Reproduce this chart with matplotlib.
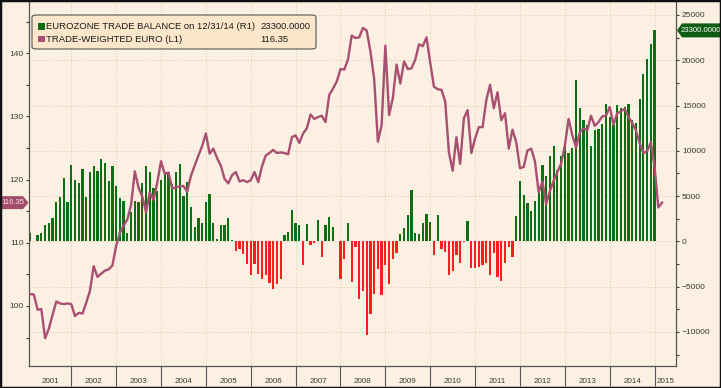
import numpy as np
import matplotlib
matplotlib.use("Agg")
import matplotlib.pyplot as plt
from matplotlib.patches import Polygon, FancyBboxPatch, Rectangle

# Arial-metric face, closer to the narrow terminal font than DejaVu
plt.rcParams['font.family'] = ['Liberation Sans', 'DejaVu Sans']

# monthly eurozone trade balance, Jan 2001 - Dec 2014 (EUR mn, right axis)
trade_balance = [
    950, 100, 700, 950, 1770, 2060, 2540, 4340, 4900, 6950, 4340, 8390,
    6730, 6480, 8020, 4900, 7690, 8320, 7760, 9050, 8610, 6660, 8320, 6110,
    4750, 4450, 960, 3240, 4450, 4340, 6400, 8320, 7650, 5920, 5600, 6730,
    7650, 7650, 6290, 7650, 8500, 5000, 6550, 3830, 1620, 2610, 2060, 4340,
    5190, 1990, 300, 1770, 1770, 2540, 200, -1070, -810, -1360, -2470, -3750,
    -2470, -3570, -4120, -3750, -4560, -5230, -4750, -4120, 660, 1070, 3460, 2060,
    1770, -2610, 1880, -400, -220, 2350, -1730, 1770, 2720, 1620, 100, -4200,
    -1910, 1990, -4450, -590, -6330, -5480, -10380, -7990, -5850, -3000, -5960, -2650,
    -4670, -1910, -1250, 770, 1510, 2870, 5630, 960, 850, 2060, 3050, 2130,
    -1550, 2940, -810, -1180, -3680, -3280, -1550, -2430, -70, 2240, -2940, -2940,
    -2830, -2580, -2390, -3680, -1250, -3940, -4420, -2390, -630, -1730, 2760, 6620,
    5120, 4230, 3310, 4450, 5300, 8460, 7210, 9380, 10490, 7840, 9460, 10600,
    9790, 10270, 17810, 14760, 13360, 12810, 10490, 12250, 12440, 12920, 15200, 13760,
    12810, 15050, 14680, 14830, 15200, 13400, 13100, 15680, 18440, 20170, 21750, 23300,
]

# trade-weighted euro, monthly Jan 2001 - Feb 2015 (left axis)
twi = [
    101.9, 101.8, 99.4, 99.5, 94.9, 96.4, 98.6, 100.7, 100.4, 100.3,
    100.4, 100.3, 98.4, 98.9, 98.8, 100.5, 102.4, 106.3, 104.6, 105.1,
    105.6, 105.8, 106.4, 109.5, 111.6, 112.7, 113.7, 116.0, 121.3, 118.7,
    117.3, 114.8, 118.0, 116.8, 119.5, 122.9, 120.9, 121.1, 118.6, 118.8,
    118.9, 119.0, 118.1, 120.6, 122.2, 123.8, 125.3, 127.3, 124.1, 124.9,
    123.4, 122.2, 120.1, 119.4, 120.7, 121.2, 119.7, 119.9, 119.6, 119.9,
    121.2, 119.6, 122.1, 123.8, 124.2, 124.7, 124.2, 124.3, 124.2, 124.0,
    126.7, 127.0, 125.8, 127.3, 128.1, 130.3, 129.6, 129.9, 130.1, 129.1,
    133.4, 134.4, 135.5, 137.5, 137.4, 139.0, 142.8, 142.4, 142.5, 144.0,
    143.6, 140.3, 136.0, 126.0, 128.6, 141.2, 130.2, 132.9, 138.2, 135.2,
    138.7, 137.5, 137.6, 139.0, 141.4, 141.1, 142.5, 138.5, 134.7, 134.3,
    134.2, 132.4, 124.3, 121.4, 126.7, 122.5, 129.7, 131.0, 124.2, 126.5,
    128.3, 128.3, 132.6, 135.0, 131.3, 133.8, 129.4, 130.5, 124.9, 127.9,
    125.9, 121.8, 122.0, 124.6, 124.9, 122.9, 118.0, 119.7, 116.1, 118.2,
    119.8, 121.2, 122.5, 125.4, 129.6, 127.0, 125.1, 127.5, 128.1, 127.8,
    130.1, 128.5, 129.1, 130.0, 130.1, 131.5, 128.7, 130.5, 130.8, 131.2,
    129.9, 129.0, 127.8, 125.8, 124.2, 124.5, 125.9, 122.0, 115.6, 116.35,
]

years = list(range(2001, 2016))
legend_labels = ['EUROZONE TRADE BALANCE on 12/31/14 (R1)', 'TRADE-WEIGHTED EURO (L1)']
legend_values = ['23300.0000', '116.35']

BG = '#fbf0e2'
GREEN = '#0e6e12'
RED = '#ff1e1e'
LINE = '#a94f72'
GRID = '#d8c8b4'
TXT = '#3a3a3a'

W, H = 721, 388
fig = plt.figure(figsize=(W / 100, H / 100), dpi=100, facecolor=BG)


def px(x, y):
    """pixel (from top-left) -> figure fraction"""
    return x / W, 1 - y / H


x0, x1, ytop, ybot = 29.4, 676.3, 2.0, 366.0
ax = fig.add_axes([x0 / W, 1 - ybot / H, (x1 - x0) / W, (ybot - ytop) / H])
ax.set_facecolor(BG)
ax2 = ax.twinx()
ax2.patch.set_visible(False)

# bars on the right-hand axis
xb = 2001 + (np.arange(len(trade_balance)) + 1) / 12.0
tb = np.array(trade_balance)
ax.bar(xb, tb, width=0.05, color=np.where(tb >= 0, GREEN, RED), linewidth=0, zorder=2)
ax.set_ylim(-13754, 26435)
ax.set_xlim(2001.067, 2015.484)

ax.yaxis.tick_right()
ax.set_yticks(np.arange(-10000, 25001, 5000))
ax.set_yticks(np.arange(-12500, 25001, 2500), minor=True)
ax.tick_params(axis='y', which='both', direction='out', length=2.5, width=0.8,
               colors=TXT, labelsize=6, pad=1.5)

# x axis: long ticks at year boundaries, labels centred in each year
xmin, xmax = ax.get_xlim()
ax.set_xticks(years[1:])
ax.set_xticklabels([])
centers = [(max(y, xmin) + min(y + 1, xmax)) / 2 for y in years]
ax.set_xticks(centers, minor=True)
ax.set_xticklabels([str(y) for y in years], minor=True)
ax.tick_params(axis='x', which='major', direction='out', length=14.5, width=0.8, colors='#555555')
ax.tick_params(axis='x', which='minor', length=0, pad=8.5, labelsize=5.8, labelcolor=TXT)

ax.grid(True, which='major', axis='both', color=GRID, linestyle=(0, (1, 2)), linewidth=0.7, zorder=0)
for s in ['left', 'right', 'bottom']:
    ax.spines[s].set_color('#555555')
    ax.spines[s].set_linewidth(0.9)
ax.spines['top'].set_visible(False)

# line on the left-hand axis
xl = 2001 + (np.arange(len(twi)) + 1) / 12.0
ax2.plot(xl, twi, color=LINE, linewidth=1.7, zorder=3, solid_joinstyle='round')
ax2.set_ylim(90.5, 148.1)
ax2.yaxis.tick_left()
ax2.set_yticks([100, 110, 120, 130, 140])
ax2.set_yticks(np.arange(95, 146, 5), minor=True)
ax2.tick_params(axis='y', which='both', direction='out', length=2.5, width=0.8,
                colors=TXT, labelsize=6, pad=1.5)
for s in ax2.spines.values():
    s.set_visible(False)

# legend box drawn by hand (two columns: name + last value)
lx0, ly0, lx1, ly1 = 32, 15, 316, 49
fx, fy = px(lx0, ly1)
box = FancyBboxPatch((fx, fy), (lx1 - lx0) / W, (ly1 - ly0) / H,
                     boxstyle='round,pad=0,rounding_size=0.006',
                     transform=fig.transFigure, facecolor='#fde7cb',
                     edgecolor='#555555', linewidth=0.8, zorder=10)
fig.patches.append(box)
for k, (lab, val, col) in enumerate(zip(legend_labels, legend_values, [GREEN, LINE])):
    yc = 26.3 + k * 12.7
    sx, sy = px(38, yc + 3.3)
    fig.patches.append(Rectangle((sx, sy), 6.5 / W, 6.6 / H, transform=fig.transFigure,
                                 facecolor=col, edgecolor='none', zorder=11))
    fig.text(*px(46.5, yc), lab, fontsize=6.8, color='#1a1a1a', va='center', ha='left', zorder=12)
    fig.text(*px(260, yc), val, fontsize=6.8, color='#1a1a1a', va='center', ha='left', zorder=12)

# last-value tags on both axes
fig.canvas.draw()
yr = H - ax.transData.transform((2010, trade_balance[-1]))[1]
tag_r = [(677, yr), (682, yr - 7), (720, yr - 7), (720, yr + 7), (682, yr + 7)]
fig.patches.append(Polygon([px(*p) for p in tag_r], closed=True, transform=fig.transFigure,
                           facecolor='#0f5c14', edgecolor='none', zorder=11))
fig.text(*px(701, yr), legend_values[0], fontsize=5.6, color='white', ha='center', va='center', zorder=12)

yl = H - ax2.transData.transform((2010, twi[-1]))[1]
tag_l = [(0, yl - 6.5), (23, yl - 6.5), (28.5, yl), (23, yl + 6.5), (0, yl + 6.5)]
fig.patches.append(Polygon([px(*p) for p in tag_l], closed=True, transform=fig.transFigure,
                           facecolor='#a24d6c', edgecolor='none', zorder=11))
fig.text(*px(12.5, yl), legend_values[1], fontsize=5.6, color='#f6e0e8', ha='center', va='center', zorder=12)

# dark frame round the whole picture
fig.patches.append(Rectangle((0, 0), 1, 1, transform=fig.transFigure, fill=False,
                             edgecolor='#111111', linewidth=2.5, zorder=20))

fig.savefig('out.png', dpi=100, facecolor=BG)
